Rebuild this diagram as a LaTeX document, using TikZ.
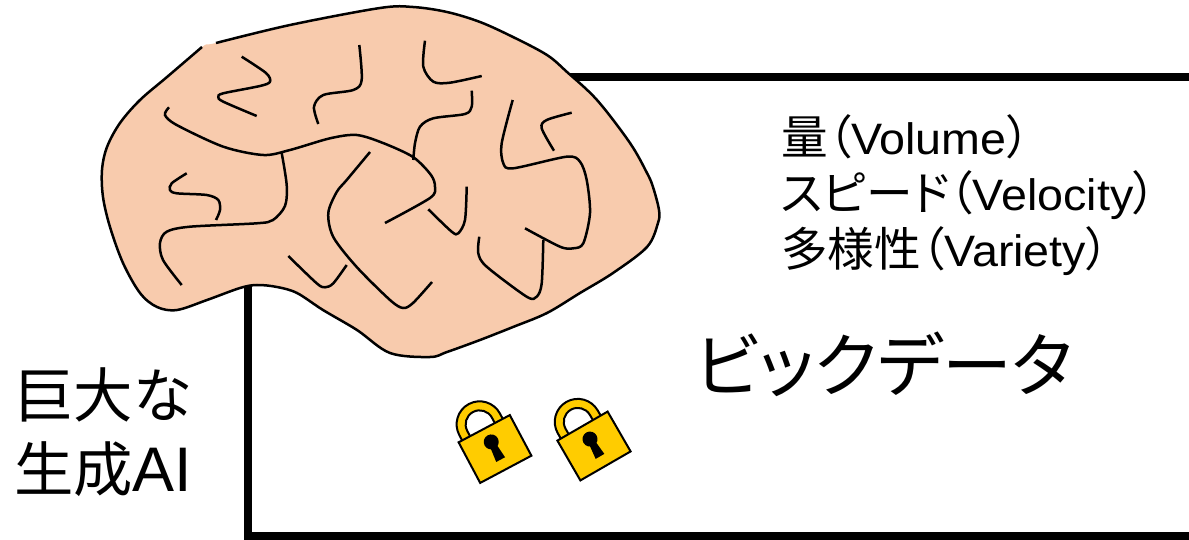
\documentclass[tikz,border=0pt]{standalone}
\usepackage{fontspec}
\setmainfont{Liberation Sans}
\newfontfamily\listfont[FakeStretch=1.06]{Liberation Sans}
\newfontfamily\jp[RawFeature=+palt,Scale=1.06]{Noto Sans CJK JP}
\definecolor{brainfill}{HTML}{F8CBAD}
\definecolor{lockgold}{HTML}{FFCC00}

\begin{document}
\begin{tikzpicture}[x=1pt,y=-1pt,
  wrinkle/.style={line width=2.5pt},
  lockpart/.style={fill=lockgold,draw=black,line width=2pt},
  listitem/.style={anchor=base west,inner sep=0,font=\fontsize{44}{50}\selectfont\listfont}]
\useasboundingbox (0,0) rectangle (1189,540);
\clip (0,0) rectangle (1189,540);

% data frame, open to the right
\draw[line width=8pt,line join=miter] (1200,77) -- (247.5,77) -- (247.5,536) -- (1200,536);

% brain
\fill[brainfill] plot[smooth cycle,tension=0.55] coordinates {
  (216,43) (290,25) (380,8) (413,7) (447,12) (480,22) (513,37) (547,55)
  (567,72) (597,100) (630,143) (647,173) (653,187) (659,210) (658,223)
  (647,247) (613,273) (580,293) (547,313) (513,327) (480,340) (447,352)
  (430,357) (390,353) (357,330) (323,310) (297,293) (277,287) (257,285)
  (240,288) (207,300) (177,310) (157,307) (140,293) (123,263) (110,227)
  (103,197) (102,170) (107,147) (120,123) (140,100) (167,77) (202,47)};
\draw[line width=2.5pt] plot[smooth,tension=0.55] coordinates {
  (216,43) (290,25) (380,8) (413,7) (447,12) (480,22) (513,37) (547,55)
  (567,72) (597,100) (630,143) (647,173) (653,187) (659,210) (658,223)
  (647,247) (613,273) (580,293) (547,313) (513,327) (480,340) (447,352)
  (430,357) (390,353) (357,330) (323,310) (297,293) (277,287) (257,285)
  (240,288) (207,300) (177,310) (157,307) (140,293) (123,263) (110,227)
  (103,197) (102,170) (107,147) (120,123) (140,100) (167,77) (202,47)};

% folds
\draw[wrinkle] plot[smooth,tension=0.5] coordinates {(241.7,56.7) (266,73) (270,81.7) (260,86) (223.3,93.3) (218.3,97) (223.3,101.7) (256.7,116)};
\draw[wrinkle] plot[smooth,tension=0.5] coordinates {(359.3,45) (361.7,80) (353.3,90) (323.3,95) (314,106.7) (318.3,124)};
\draw[wrinkle] plot[smooth,tension=0.5] coordinates {(169,107.3) (165,115) (176.7,125) (223.3,146.7) (263.3,155) (290,150) (330,138.3) (356.7,135) (383,143) (413,157) (431,175) (435,187) (430,198) (385,223)};
\draw[wrinkle] plot[smooth,tension=0.5] coordinates {(281.7,153) (286.7,185) (285,206) (273,220) (256.7,223.3) (190,226.7) (166.7,231.7) (160,243) (163,260) (181.7,285)};
\draw[wrinkle] plot[smooth,tension=0.5] coordinates {(186.7,173.3) (171.7,183.3) (170,190) (176.7,193.3) (206.7,195) (218.3,200) (220,210) (216,220)};
\draw[wrinkle] plot[smooth,tension=0.5] coordinates {(288.3,256) (316.7,283.3) (325,287.3) (333.3,283.3) (346.7,265)};
\draw[wrinkle] plot[smooth,tension=0.5] coordinates {(370,152) (346.7,180) (336.7,192) (328.3,213) (333.3,237) (356.7,267) (390,300) (403,308) (413,303) (432,282)};
\draw[wrinkle] plot[smooth,tension=0.5] coordinates {(471.7,90.7) (471.7,106.7) (465,114) (433.3,118.3) (420,126.7) (415,143.3) (413.3,160)};
\draw[wrinkle] plot[smooth,tension=0.5] coordinates {(425,40.7) (423.3,66.7) (433.3,81.7) (450,82.7) (481.7,76)};
\draw[wrinkle] plot[smooth,tension=0.5] coordinates {(512.7,100) (501.7,143.3) (503.3,163.3) (513.3,168.3) (566.7,156.7) (580,161.7) (586.7,180) (590,213) (583.3,243.3) (573.3,248.3) (560,246.7) (525,228.3)};
\draw[wrinkle] plot[smooth,tension=0.5] coordinates {(571.7,112.7) (546.7,120) (541.7,128.3) (554,150.7)};
\draw[wrinkle] plot[smooth,tension=0.5] coordinates {(466.7,186.7) (465,220) (458.3,233.3) (451.7,231.7) (428.3,209.3)};
\draw[wrinkle] plot[smooth,tension=0.5] coordinates {(479.3,236.7) (478.3,253.3) (486.7,266.7) (526.7,296.7) (536.7,296.7) (541.7,283.3) (543.3,240)};

% padlocks
\foreach \cx/\cy/\ang in {495/449/28, 594/446/30} {
  \begin{scope}[shift={(\cx,\cy)},rotate=\ang,x=1pt,y=1pt]
    \filldraw[lockpart] (-25,12) -- (-25,29) arc (180:0:23) -- (21,12) -- (12,12) -- (12,29) arc (0:180:14) -- (-16,12) -- cycle;
    \filldraw[lockpart] (-29,-23) rectangle (29,23);
    \fill (0,8) circle (7.5);
    \fill (-3,8) -- (3,8) -- (5,-12) -- (-5,-12) -- cycle;
  \end{scope}
}

% labels
\node[listitem] (vol) at (781,155) {{\jp 量（}Volume{\jp ）}};
\node[listitem] (vel) at (781,211) {{\jp スピード（}Velocity{\jp ）}};
\node[listitem] (var) at (781,266) {{\jp 多様性（}Variety{\jp ）}};
\node[inner sep=0,font=\fontsize{66}{70}\selectfont\jp] (bigdata) at (884,364) {ビックデータ};
\node[anchor=base west,inner sep=0,font=\fontsize{56}{70}\selectfont] (gen1) at (14,417) {{\jp 巨大な}};
\node[anchor=base west,inner sep=0,font=\fontsize{56}{70}\selectfont] (gen2) at (14,491) {{\jp 生成}{\fontsize{63}{70}\selectfont AI}};
\end{tikzpicture}
\end{document}
